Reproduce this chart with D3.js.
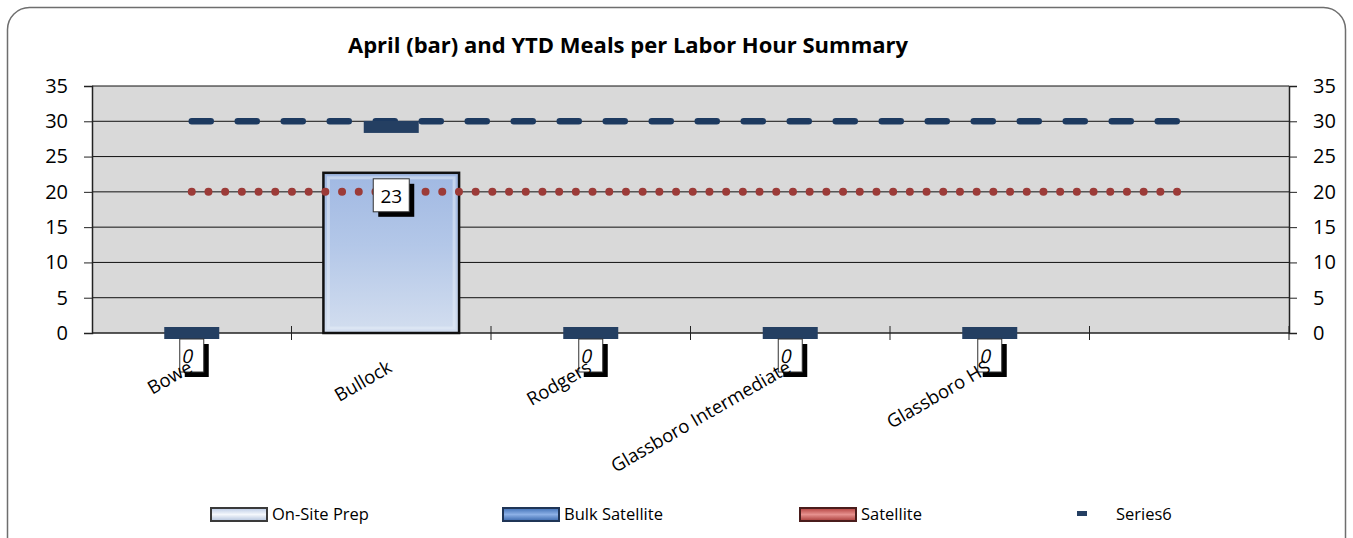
<!DOCTYPE html>
<html>
<head>
<meta charset="utf-8">
<script src="https://cdn.jsdelivr.net/npm/d3@7"></script>
<style>
  body { margin: 0; background: #fff; }
  svg { display: block; font-family: "Open Sans", sans-serif; }
</style>
</head>
<body>
<svg id="chart" width="1353" height="538"></svg>
<script>
// chart data
const categories = ["Bowe", "Bullock", "Rodgers", "Glassboro Intermediate", "Glassboro HS", ""];
const onSitePrep = [0, 22.7, 0, 0, 0, null];      // bars (April)
const bulkSatellite = [30, 30, 30, 30, 30, 30];    // dashed navy line
const satellite = [20, 20, 20, 20, 20, 20];        // dotted red line
const series6 = [0, 29.2, 0, 0, 0, null];          // marker only
const yTicks = [0, 5, 10, 15, 20, 25, 30, 35];
const legendItems = ["On-Site Prep", "Bulk Satellite", "Satellite", "Series6"];
const titleText = "April (bar) and YTD Meals per Labor Hour Summary";

const svg = d3.select("#chart");

const plot = { left: 92, right: 1289, top: 86, bottom: 333 };

const x = d3.scaleBand().domain(categories).range([plot.left, plot.right]);
const y = d3.scaleLinear().domain([0, 35]).range([plot.bottom, plot.top]);
const cx = c => x(c) + x.bandwidth() / 2;

// gradients
const defs = svg.append("defs");
function addGrad(id, stops) {
  const g = defs.append("linearGradient").attr("id", id)
    .attr("x1", 0).attr("y1", 0).attr("x2", 0).attr("y2", 1);
  stops.forEach(s => g.append("stop").attr("offset", s[0]).attr("stop-color", s[1]));
}
addGrad("barGrad", [[0, "#a0b8e2"], [0.45, "#b3c7e8"], [1, "#d3deef"]]);
addGrad("legPrep", [[0, "#b9c9e4"], [0.5, "#f4f7fc"], [1, "#b3c3dd"]]);
addGrad("legBulk", [[0, "#3f6fb5"], [0.5, "#8cb0e6"], [1, "#3a68ad"]]);
addGrad("legSat", [[0, "#b2403d"], [0.5, "#e6918e"], [1, "#a83c39"]]);

// outer frame
svg.append("rect")
  .attr("x", 7.5).attr("y", 7.5)
  .attr("width", 1338).attr("height", 560)
  .attr("rx", 22).attr("ry", 22)
  .attr("fill", "#fff").attr("stroke", "#6e6e6e").attr("stroke-width", 1.5);

// title
svg.append("text")
  .attr("x", 628).attr("y", 53)
  .attr("text-anchor", "middle")
  .attr("font-size", 22).attr("font-weight", "bold")
  .text(titleText);

// plot background
svg.append("rect")
  .attr("x", plot.left).attr("y", plot.top)
  .attr("width", plot.right - plot.left).attr("height", plot.bottom - plot.top)
  .attr("fill", "#d9d9d9");

// gridlines
svg.append("g").selectAll("line")
  .data(yTicks.filter(d => d > 0))
  .join("line")
  .attr("x1", plot.left).attr("x2", plot.right)
  .attr("y1", d => y(d)).attr("y2", d => y(d))
  .attr("stroke", "#111").attr("stroke-width", 1);

// left axis
const leftAxis = svg.append("g")
  .attr("transform", `translate(${plot.left},0)`)
  .call(d3.axisLeft(y).tickValues(yTicks).tickSize(8).tickPadding(16));
// right axis
const rightAxis = svg.append("g")
  .attr("transform", `translate(${plot.right},0)`)
  .call(d3.axisRight(y).tickValues(yTicks).tickSize(8).tickPadding(16));
[leftAxis, rightAxis].forEach(a => {
  a.select(".domain").attr("stroke", "#222").attr("stroke-width", 1.5);
  a.selectAll(".tick line").attr("stroke", "#222");
  a.selectAll("text").attr("font-size", 20).attr("fill", "#000")
    .attr("font-family", "'Open Sans', sans-serif");
});

// bottom axis line + category ticks
svg.append("line")
  .attr("x1", plot.left).attr("x2", plot.right)
  .attr("y1", plot.bottom).attr("y2", plot.bottom)
  .attr("stroke", "#222").attr("stroke-width", 1.5);
const bounds = categories.map(c => x(c)).concat([plot.right]);
svg.append("g").selectAll("line")
  .data(bounds.slice(1))
  .join("line")
  .attr("x1", d => d).attr("x2", d => d)
  .attr("y1", plot.bottom - 7).attr("y2", plot.bottom + 7)
  .attr("stroke", "#222").attr("stroke-width", 1);

// bars
const barW = x.bandwidth() * 0.68;
const barData = categories.map((c, i) => ({ c, v: onSitePrep[i] })).filter(d => d.v !== null);
svg.append("g").selectAll("rect")
  .data(barData.filter(d => d.v > 0))
  .join("rect")
  .attr("x", d => cx(d.c) - barW / 2)
  .attr("y", d => y(d.v))
  .attr("width", barW)
  .attr("height", d => y(0) - y(d.v))
  .attr("fill", "url(#barGrad)")
  .attr("stroke", "#111").attr("stroke-width", 2.5);
// bevel highlight
svg.append("g").selectAll("rect")
  .data(barData.filter(d => d.v > 0))
  .join("rect")
  .attr("x", d => cx(d.c) - barW / 2 + 5)
  .attr("y", d => y(d.v) + 5)
  .attr("width", barW - 10)
  .attr("height", d => y(0) - y(d.v) - 10)
  .attr("fill", "none")
  .attr("stroke", "#e6edf8").attr("stroke-opacity", 0.5).attr("stroke-width", 3);

// lines
const lineGen = d3.line().x((d, i) => cx(categories[i])).y(d => y(d));
svg.append("path")
  .datum(satellite)
  .attr("d", lineGen)
  .attr("fill", "none")
  .attr("stroke", "#9c3b38").attr("stroke-width", 8)
  .attr("stroke-linecap", "round")
  .attr("stroke-dasharray", "0 16.7");
svg.append("path")
  .datum(bulkSatellite)
  .attr("d", lineGen)
  .attr("fill", "none")
  .attr("stroke", "#1d3a60").attr("stroke-width", 6.5)
  .attr("stroke-linecap", "round")
  .attr("stroke-dasharray", "19 27");

// series6 markers
const s6 = categories.map((c, i) => ({ c, v: series6[i] })).filter(d => d.v !== null);
svg.append("g").selectAll("rect")
  .data(s6)
  .join("rect")
  .attr("x", d => cx(d.c) - 27.5)
  .attr("y", d => y(d.v) - 6)
  .attr("width", 55).attr("height", 12)
  .attr("fill", "#243f62");

// data labels (inside end of bar)
const lab = svg.append("g").selectAll("g")
  .data(barData)
  .join("g")
  .attr("transform", d => `translate(${cx(d.c)},${y(d.v) + 6})`);
lab.each(function (d) {
  const g = d3.select(this);
  const txt = String(Math.round(d.v));
  const w = txt.length > 1 ? 36 : 24;
  g.append("rect").attr("x", -w / 2 + 5).attr("y", 5).attr("width", w).attr("height", 33).attr("fill", "#000");
  g.append("rect").attr("x", -w / 2).attr("y", 0).attr("width", w).attr("height", 33)
    .attr("fill", "#fff").attr("stroke", "#333").attr("stroke-width", 1);
  g.append("text").attr("x", 0).attr("y", 24).attr("text-anchor", "middle")
    .attr("font-size", 19)
    .attr("transform", txt === "0" ? "skewX(-12)" : null)
    .text(txt);
});

// category labels (drawn over the data labels)
svg.append("g").selectAll("text")
  .data(categories)
  .join("text")
  .attr("transform", c => `translate(${cx(c) + 2},${plot.bottom + 38}) rotate(-30)`)
  .attr("text-anchor", "end")
  .attr("font-size", 18.5)
  .text(c => c);

// legend
const legX = [211, 503, 800, 1077];
const legY = 514;
const legFills = ["url(#legPrep)", "url(#legBulk)", "url(#legSat)", null];
const legStroke = ["#3a3a3a", "#1f3556", "#4a1d1c", null];
legendItems.forEach((name, i) => {
  const g = svg.append("g");
  if (i < 3) {
    g.append("rect").attr("x", legX[i]).attr("y", legY - 6).attr("width", 56).attr("height", 13)
      .attr("fill", legFills[i]).attr("stroke", legStroke[i]).attr("stroke-width", 2);
    g.append("text").attr("x", legX[i] + 61).attr("y", legY + 6).attr("font-size", 16.5).text(name);
  } else {
    g.append("rect").attr("x", legX[i]).attr("y", legY - 3).attr("width", 10).attr("height", 5)
      .attr("fill", "#243f62");
    g.append("text").attr("x", legX[i] + 39).attr("y", legY + 6).attr("font-size", 16.5).text(name);
  }
});
</script>
</body>
</html>
